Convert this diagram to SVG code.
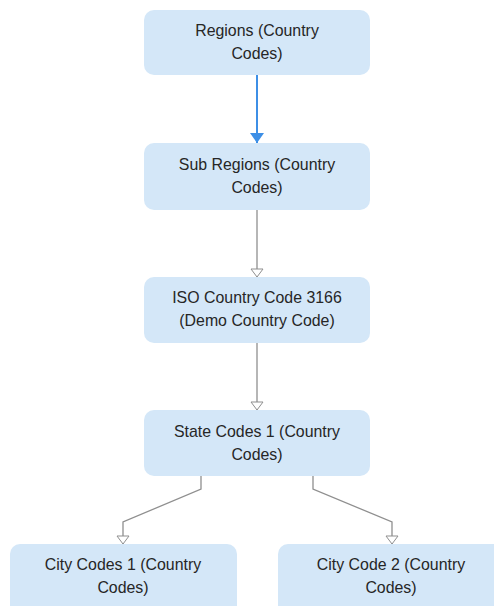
<svg xmlns="http://www.w3.org/2000/svg" width="494" height="606" viewBox="0 0 494 606">
<style>
.n rect{fill:#d4e7f8;stroke:none}
.n text{font-family:"Liberation Sans",Arial,sans-serif;font-size:15.9px;fill:#262626;text-anchor:middle}
.c{fill:none;stroke:#8f8f8f;stroke-width:1.3}
</style>
<defs>
<marker id="h" markerWidth="10" markerHeight="14" refX="9" refY="7" orient="auto" markerUnits="userSpaceOnUse">
<path d="M1,1 L9,7 L1,13 Z" fill="#fff" stroke="#8f8f8f" stroke-width="1"/>
</marker>
<marker id="b" markerWidth="12" markerHeight="16" refX="11" refY="8" orient="auto" markerUnits="userSpaceOnUse">
<path d="M1,1 L11,8 L1,15 Z" fill="#3d8fe6"/>
</marker>
</defs>
<rect width="494" height="606" fill="#fff"/>
<g id="connectors">
<path d="M257,75 V143" fill="none" stroke="#3d8fe6" stroke-width="2" marker-end="url(#b)"/>
<path class="c" d="M257,210 V277" marker-end="url(#h)"/>
<path class="c" d="M257,343 V410" marker-end="url(#h)"/>
<path class="c" d="M201,476 V489 L123,522 V544" marker-end="url(#h)"/>
<path class="c" d="M313,476 V489 L392,522 V544" marker-end="url(#h)"/>
</g>
<g id="regions" class="n"><rect x="144" y="10" width="226" height="65" rx="10"/><text x="257" y="36">Regions (Country</text><text x="257" y="59">Codes)</text></g>
<g id="subregions" class="n"><rect x="144" y="143" width="226" height="67" rx="10"/><text x="257" y="170">Sub Regions (Country</text><text x="257" y="193">Codes)</text></g>
<g id="iso" class="n"><rect x="144" y="277" width="226" height="66" rx="10"/><text x="257" y="303">ISO Country Code 3166</text><text x="257" y="326">(Demo Country Code)</text></g>
<g id="state" class="n"><rect x="144" y="410" width="226" height="66" rx="10"/><text x="257" y="437">State Codes 1 (Country</text><text x="257" y="460">Codes)</text></g>
<g id="city1" class="n"><rect x="10" y="544" width="227" height="72" rx="10"/><text x="123" y="570">City Codes 1 (Country</text><text x="123" y="593">Codes)</text></g>
<g id="city2" class="n"><rect x="278" y="544" width="226" height="72" rx="10"/><text x="391" y="570">City Code 2 (Country</text><text x="391" y="593">Codes)</text></g>
</svg>
